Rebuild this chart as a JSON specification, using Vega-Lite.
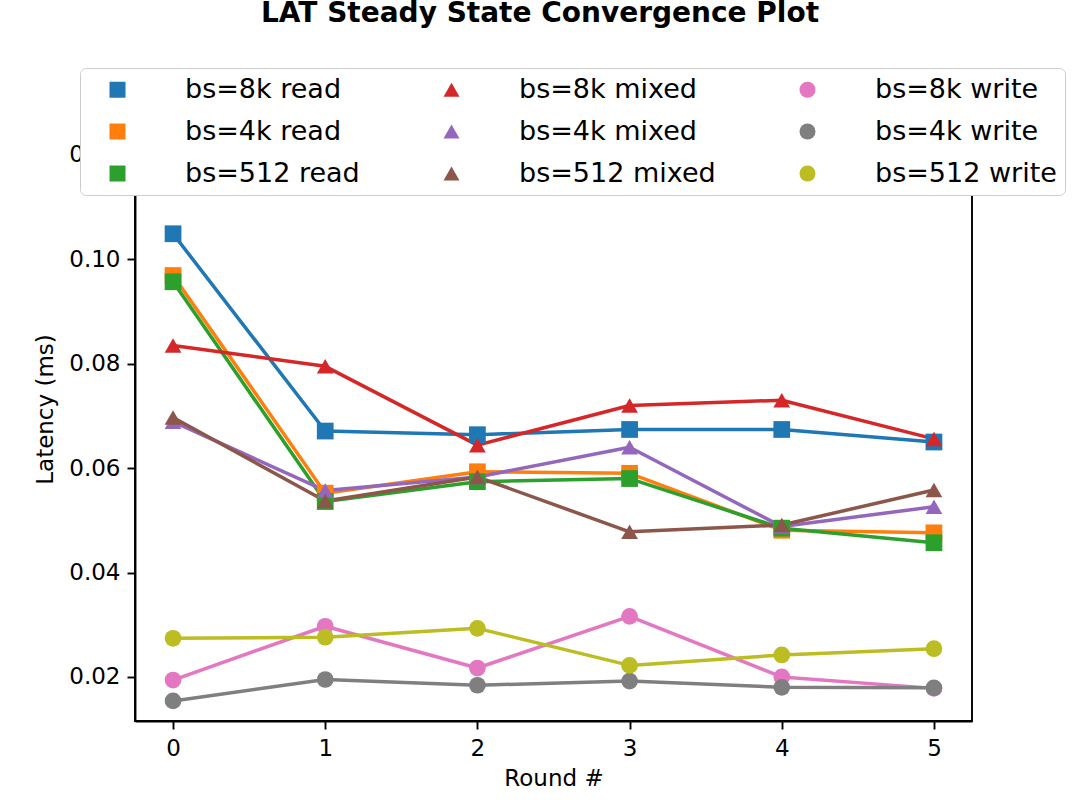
{
  "$schema": "https://vega.github.io/schema/vega-lite/v6.json",
  "autosize": {"type": "none"},
  "width": 837,
  "height": 624,
  "padding": {"left": 135, "top": 97, "right": 108, "bottom": 89},
  "background": "white",
  "title": {"text": "LAT Steady State Convergence Plot", "anchor": "middle", "frame": "group", "fontSize": 28, "fontWeight": "bold", "font": "DejaVu Sans", "color": "black", "offset": 18, "baseline": "alphabetic", "dx": -13.5},
  "data": {"values": [
    {"round": 0, "series": "bs=8k read", "latency": 0.1049},
    {"round": 1, "series": "bs=8k read", "latency": 0.0671},
    {"round": 2, "series": "bs=8k read", "latency": 0.0664},
    {"round": 3, "series": "bs=8k read", "latency": 0.0674},
    {"round": 4, "series": "bs=8k read", "latency": 0.0674},
    {"round": 5, "series": "bs=8k read", "latency": 0.0650},
    {"round": 0, "series": "bs=4k read", "latency": 0.0969},
    {"round": 1, "series": "bs=4k read", "latency": 0.0552},
    {"round": 2, "series": "bs=4k read", "latency": 0.0593},
    {"round": 3, "series": "bs=4k read", "latency": 0.0590},
    {"round": 4, "series": "bs=4k read", "latency": 0.0481},
    {"round": 5, "series": "bs=4k read", "latency": 0.0476},
    {"round": 0, "series": "bs=512 read", "latency": 0.0957},
    {"round": 1, "series": "bs=512 read", "latency": 0.0536},
    {"round": 2, "series": "bs=512 read", "latency": 0.0574},
    {"round": 3, "series": "bs=512 read", "latency": 0.0580},
    {"round": 4, "series": "bs=512 read", "latency": 0.0485},
    {"round": 5, "series": "bs=512 read", "latency": 0.0457},
    {"round": 0, "series": "bs=8k mixed", "latency": 0.0835},
    {"round": 1, "series": "bs=8k mixed", "latency": 0.0795},
    {"round": 2, "series": "bs=8k mixed", "latency": 0.0644},
    {"round": 3, "series": "bs=8k mixed", "latency": 0.0720},
    {"round": 4, "series": "bs=8k mixed", "latency": 0.0730},
    {"round": 5, "series": "bs=8k mixed", "latency": 0.0656},
    {"round": 0, "series": "bs=4k mixed", "latency": 0.0689},
    {"round": 1, "series": "bs=4k mixed", "latency": 0.0557},
    {"round": 2, "series": "bs=4k mixed", "latency": 0.0583},
    {"round": 3, "series": "bs=4k mixed", "latency": 0.0640},
    {"round": 4, "series": "bs=4k mixed", "latency": 0.0488},
    {"round": 5, "series": "bs=4k mixed", "latency": 0.0526},
    {"round": 0, "series": "bs=512 mixed", "latency": 0.0697},
    {"round": 1, "series": "bs=512 mixed", "latency": 0.0537},
    {"round": 2, "series": "bs=512 mixed", "latency": 0.0583},
    {"round": 3, "series": "bs=512 mixed", "latency": 0.0478},
    {"round": 4, "series": "bs=512 mixed", "latency": 0.0491},
    {"round": 5, "series": "bs=512 mixed", "latency": 0.0558},
    {"round": 0, "series": "bs=8k write", "latency": 0.0194},
    {"round": 1, "series": "bs=8k write", "latency": 0.0297},
    {"round": 2, "series": "bs=8k write", "latency": 0.0217},
    {"round": 3, "series": "bs=8k write", "latency": 0.0316},
    {"round": 4, "series": "bs=8k write", "latency": 0.0200},
    {"round": 5, "series": "bs=8k write", "latency": 0.0178},
    {"round": 0, "series": "bs=4k write", "latency": 0.0154},
    {"round": 1, "series": "bs=4k write", "latency": 0.0195},
    {"round": 2, "series": "bs=4k write", "latency": 0.0184},
    {"round": 3, "series": "bs=4k write", "latency": 0.0192},
    {"round": 4, "series": "bs=4k write", "latency": 0.0180},
    {"round": 5, "series": "bs=4k write", "latency": 0.0179},
    {"round": 0, "series": "bs=512 write", "latency": 0.0274},
    {"round": 1, "series": "bs=512 write", "latency": 0.0276},
    {"round": 2, "series": "bs=512 write", "latency": 0.0293},
    {"round": 3, "series": "bs=512 write", "latency": 0.0222},
    {"round": 4, "series": "bs=512 write", "latency": 0.0242},
    {"round": 5, "series": "bs=512 write", "latency": 0.0254}
  ]},
  "encoding": {
    "x": {"field": "round", "type": "quantitative", "title": "Round #",
          "scale": {"domain": [-0.25, 5.25], "nice": false, "zero": false},
          "axis": {"values": [0, 1, 2, 3, 4, 5], "format": "d"}},
    "y": {"field": "latency", "type": "quantitative", "title": "Latency (ms)",
          "scale": {"domain": [0.01155, 0.1311], "nice": false, "zero": false},
          "axis": {"values": [0.02, 0.04, 0.06, 0.08, 0.10, 0.12], "format": ".2f"}}
  },
  "layer": [
    {"mark": {"type": "line", "strokeWidth": 3.5, "strokeJoin": "round"},
     "encoding": {"stroke": {"field": "series", "type": "nominal", "sort": null, "legend": null,
                             "scale": {"range": ["#1f77b4", "#ff7f0e", "#2ca02c", "#d62728", "#9467bd", "#8c564b", "#e377c2", "#7f7f7f", "#bcbd22"]}}}},
    {"mark": {"type": "point", "filled": true, "opacity": 1, "size": 280},
     "encoding": {
       "color": {"field": "series", "type": "nominal", "sort": null, "legend": {"title": null},
                 "scale": {"range": ["#1f77b4", "#ff7f0e", "#2ca02c", "#d62728", "#9467bd", "#8c564b", "#e377c2", "#7f7f7f", "#bcbd22"]}},
       "shape": {"field": "series", "type": "nominal", "sort": null, "legend": {"title": null},
                 "scale": {"range": ["square", "square", "square", "triangle-up", "triangle-up", "triangle-up", "circle", "circle", "circle"]}}
     }}
  ],
  "config": {
    "font": "DejaVu Sans",
    "view": {"stroke": "black", "strokeWidth": 1.9},
    "axis": {"grid": false, "domainColor": "black", "domainWidth": 1.9, "tickColor": "black", "tickWidth": 1.9, "tickSize": 8,
             "labelFontSize": 23, "labelColor": "black",
             "titleFontSize": 23, "titleFontWeight": "normal", "titleColor": "black"},
    "axisX": {"labelPadding": 8, "titlePadding": 7, "labelAngle": 0},
    "axisY": {"labelPadding": 7, "titlePadding": 11},
    "legend": {"orient": "none", "legendX": -55, "legendY": -29, "columns": 3, "padding": 8, "rowPadding": 14, "columnPadding": 62,
               "labelOffset": 54, "labelFontSize": 27, "labelColor": "black", "labelLimit": 250,
               "symbolSize": 256, "symbolOffset": 16, "symbolStrokeWidth": 0, "fillColor": "white", "strokeColor": "#cccccc", "cornerRadius": 6}
  }
}
